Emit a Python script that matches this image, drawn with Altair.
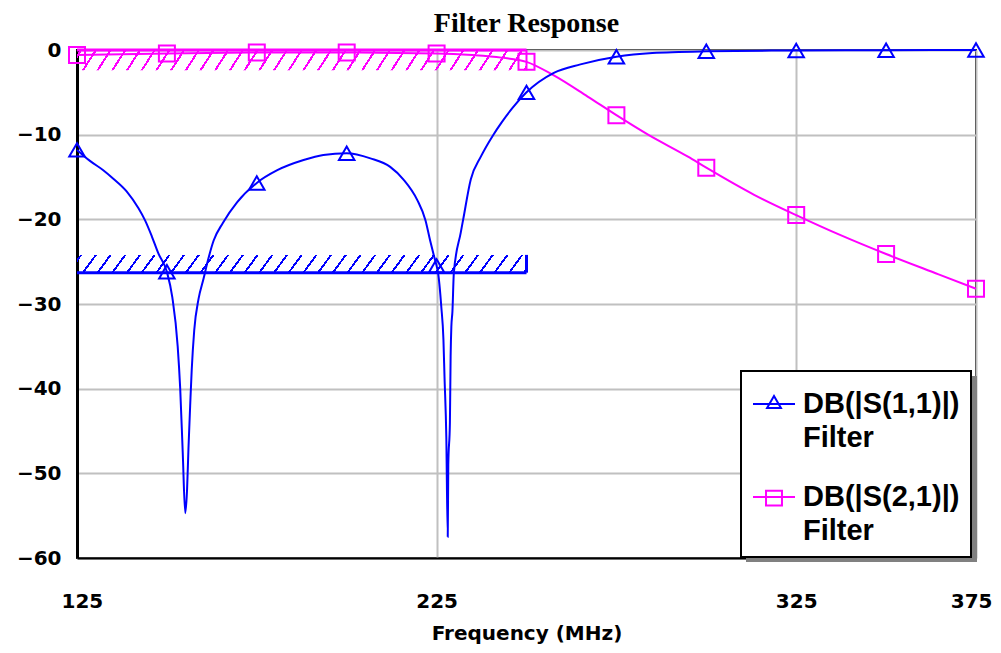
import altair as alt
import pandas as pd

# ---------------- data ----------------
s11_freq = [125, 128.6, 132.3, 135.1, 138.8, 142.1, 143.9, 145.8, 147.6, 150, 151.5, 153.0,
            153.7, 154.4, 155.1, 155.6, 156.0, 156.5, 156.9, 157.6, 158.8, 160.2, 161.2, 163,
            165.6, 169.5, 175, 180.7, 188, 193.5, 200, 206.6, 212.1, 215.8, 219.6, 221.9,
            223.2, 224.2, 225, 225.4, 226.3, 226.9, 227.2, 227.7, 228.1, 228.25, 228.7, 228.9,
            229.1, 229.4, 229.8, 231.7, 232.4, 234.5, 237.3, 240.8, 243, 246, 250, 257.6, 265,
            275, 285, 300, 325, 350, 375]
s11_db = [-11.8, -13.1, -14.2, -15.2, -16.7, -18.7, -20.1, -22.0, -24.0, -26.2, -29.2, -35.0,
          -40.0, -47.5, -54.7, -52.0, -47.0, -41.7, -37.8, -33.1, -29.4, -27.0, -25.2, -22.5,
          -20.4, -18.0, -15.7, -14.2, -13.0, -12.4, -12.2, -12.8, -13.8, -15.3, -17.7, -20.1,
          -22.5, -24.2, -25.5, -26.3, -30.3, -34.2, -38.6, -45.7, -57.5, -49.0, -44.0, -36.2,
          -32.7, -30.9, -26.3, -21.6, -20.0, -15.3, -12.6, -10.0, -8.6, -6.9, -5.0, -2.7,
          -1.7, -0.8, -0.35, -0.15, -0.05, -0.02, 0.0]

s21_freq = [125, 150, 175, 200, 225, 235, 243, 250, 257.6, 267, 275, 283.8, 294.9, 300,
            313.3, 325, 337.5, 350, 364.6, 375]
s21_db = [-0.6, -0.4, -0.3, -0.3, -0.4, -0.6, -0.9, -1.4, -3.0, -5.5, -7.7, -10.0, -12.6,
          -13.9, -17.1, -19.5, -21.9, -24.1, -26.5, -28.2]

marker_freq = [125, 150, 175, 200, 225, 250, 275, 300, 325, 350, 375]

x_ticks = [125, 225, 325, 375]
y_ticks = [-60, -50, -40, -30, -20, -10, 0]
x_domain = [125, 375]
y_domain = [-60, 0]

# goal (spec) bands
spec_start = [125]
spec_stop = [250]
s11_spec_line = [-26.3]
s11_spec_edge = [-24.2]
s21_spec_line = [0.0]
s21_spec_edge = [-2.4]

series = ["S11", "S21"]
series_lines = [["DB(|S(1,1)|)", "Filter"], ["DB(|S(2,1)|)", "Filter"]]
colors = ["#0000FF", "#FF00FF"]

# ---------------- layout / style ----------------
W, H = 899, 508
BLUE, MAGENTA = colors
GRID = "#C0C0C0"
LEG_X, LEG_Y, LEG_W, LEG_H, SHADOW = 664, 321, 232, 187, 4

def hatch_fill(color, w_px, spacing=14.7, slant=13.0, lw=2.4):
    a = slant / w_px
    span = 1.0 + a
    c = (1.0 + a) / (1.0 + a * a)
    clear = "rgba(255,255,255,0)"
    stops = [{"offset": 0.0, "color": clear}]
    pos = 3.0
    total = w_px * span
    while (pos + lw) / total < 1.0:
        c0 = pos / total
        c1 = (pos + lw) / total
        stops += [{"offset": c0, "color": clear}, {"offset": c0, "color": color},
                  {"offset": c1, "color": color}, {"offset": c1, "color": clear}]
        pos += spacing
    stops.append({"offset": 1.0, "color": clear})
    return {"gradient": "linear", "x1": 0, "y1": 0, "x2": c, "y2": c * a, "stops": stops}

px_per_mhz = W / (x_domain[1] - x_domain[0])
band_w = (spec_stop[0] - spec_start[0]) * px_per_mhz

s11_df = pd.DataFrame({"f": s11_freq, "db": s11_db})
s21_df = pd.DataFrame({"f": s21_freq, "db": s21_db})
spec11 = pd.DataFrame({"x": spec_start, "x2": spec_stop, "y": s11_spec_line, "y2": s11_spec_edge})
spec21 = pd.DataFrame({"x": spec_start, "x2": spec_stop, "y": s21_spec_line, "y2": s21_spec_edge})
legend_df = pd.DataFrame({"series": series, "f": [x_domain[0]] * 2, "db": [0] * 2})

xs = alt.Scale(domain=x_domain, nice=False, zero=False)
ys = alt.Scale(domain=y_domain, nice=False, zero=False)

x_axis = alt.Axis(values=x_ticks, title="Frequency (MHz)", grid=True, gridColor=GRID,
                  gridWidth=2, ticks=False, domainColor="black", domainWidth=2,
                  labelPadding=33, titlePadding=12, labelFlush=True, labelFlushOffset=16)
y_axis = alt.Axis(values=y_ticks, title=None, grid=True, gridColor=GRID, gridWidth=2,
                  ticks=False, domainColor="black", domainWidth=3, labelPadding=16)

X = lambda f: alt.X(f, type="quantitative", scale=xs, axis=x_axis)
Y = lambda f: alt.Y(f, type="quantitative", scale=ys, axis=y_axis)

band11 = alt.Chart(spec11).mark_rect(fill=hatch_fill(BLUE, band_w)).encode(
    x=X("x"), x2="x2", y=Y("y"), y2="y2")
band21 = alt.Chart(spec21).mark_rect(fill=hatch_fill(MAGENTA, band_w)).encode(
    x=X("x"), x2="x2", y=Y("y"), y2="y2")
line11 = alt.Chart(spec11).mark_rule(color=BLUE, strokeWidth=3).encode(x=X("x"), x2="x2", y=Y("y"))
edge11 = alt.Chart(spec11).mark_rule(color=BLUE, strokeWidth=3).encode(x=X("x2"), y=Y("y"), y2="y2")
line21 = alt.Chart(spec21).mark_rule(color=MAGENTA, strokeWidth=3).encode(x=X("x"), x2="x2", y=Y("y"))
edge21 = alt.Chart(spec21).mark_rule(color=MAGENTA, strokeWidth=2).encode(x=X("x2"), y=Y("y"), y2="y2")

curve21 = alt.Chart(s21_df).mark_line(color=MAGENTA, strokeWidth=2, interpolate="monotone").encode(
    x=X("f"), y=Y("db"))
curve11 = alt.Chart(s11_df).mark_line(color=BLUE, strokeWidth=2, interpolate="monotone").encode(
    x=X("f"), y=Y("db"))
mark21 = alt.Chart(s21_df).transform_filter(alt.FieldOneOfPredicate(field="f", oneOf=marker_freq)).mark_point(
    shape="square", size=256, filled=False, color=MAGENTA, strokeWidth=2, opacity=1).encode(x=X("f"), y=Y("db"))
mark11 = alt.Chart(s11_df).transform_filter(alt.FieldOneOfPredicate(field="f", oneOf=marker_freq)).mark_point(
    shape="triangle-up", size=240, filled=False, color=BLUE, strokeWidth=2, opacity=1).encode(x=X("f"), y=Y("db"))

# drop shadow of the legend box (decoration)
shadow = alt.Chart(legend_df.head(1)).mark_rect(color="#808080").encode(
    x=alt.value(LEG_X + SHADOW + 1), x2=alt.value(LEG_X + LEG_W + SHADOW),
    y=alt.value(LEG_Y + SHADOW + 1), y2=alt.value(LEG_Y + LEG_H + SHADOW))

tri_path = "M-1,0H1M-0.33,0.19L0.33,0.19L0,-0.38Z"
sq_path = "M-1,0H1M-0.38,-0.3H0.38V0.4H-0.38Z"
label_expr = " : ".join(
    [f"datum.value == '{s}' ? ['{l[0]}', '{l[1]}']" for s, l in zip(series[:-1], series_lines[:-1])]
    + [f"['{series_lines[-1][0]}', '{series_lines[-1][1]}']"])

legend = alt.Legend(orient="none", legendX=LEG_X, legendY=LEG_Y, title=None, labelExpr=label_expr,
                    labelFont="Liberation Sans", labelFontSize=29, labelFontWeight="bold",
                    labelColor="black", labelLimit=400, labelOffset=7, symbolSize=1764,
                    symbolStrokeWidth=2, padding=11, rowPadding=22, fillColor="white",
                    strokeColor="black")

legend_layer = alt.Chart(legend_df).transform_filter("false").mark_point(
    filled=False, strokeWidth=2, opacity=1).encode(
    x=X("f"), y=Y("db"),
    color=alt.Color("series:N", scale=alt.Scale(domain=series, range=colors), legend=legend),
    shape=alt.Shape("series:N", scale=alt.Scale(domain=series, range=[tri_path, sq_path]), legend=legend),
)

chart = alt.layer(band21, band11, line21, edge21, line11, edge11, curve21, curve11,
                  mark21, mark11, shadow, legend_layer).properties(
    width=W, height=H,
    autosize=alt.AutoSizeParams(type="none"),
    padding={"left": 69, "top": 42, "right": 17, "bottom": 87},
    title=alt.TitleParams("Filter Response", font="Liberation Serif", fontSize=28,
                          fontWeight="bold", anchor="middle", offset=1, color="black"),
).configure(style={"guide-label": {"lineHeight": 34}}).configure_view(
    stroke="black", strokeWidth=2).configure_axis(
    labelFont="DejaVu Sans", labelFontSize=20, labelFontWeight="bold", labelColor="black",
    titleFont="DejaVu Sans", titleFontSize=20, titleFontWeight="bold", titleColor="black",
).configure_legend(strokeWidth=2)

chart.save("out.html", embed_options={"renderer": "svg", "actions": False})
